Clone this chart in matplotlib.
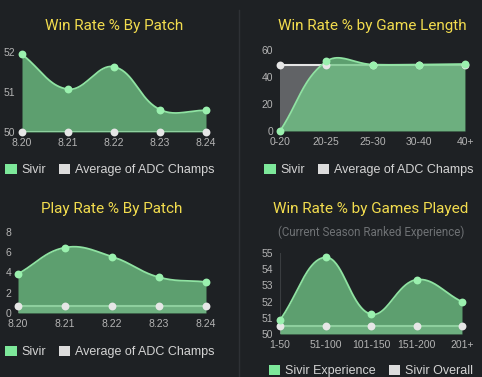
import numpy as np
import matplotlib
matplotlib.use('Agg')
import matplotlib.pyplot as plt
from matplotlib.patches import Patch

# data
patches = ['8.20', '8.21', '8.22', '8.23', '8.24']
win_patch = [51.94, 51.07, 51.63, 50.56, 50.54]
win_patch_avg = [50.0, 50.0, 50.0, 50.0, 50.0]

lengths = ['0-20', '20-25', '25-30', '30-40', '40+']
win_length = [0.0, 51.5, 49.2, 49.2, 49.6]
win_length_avg = [49.0, 49.0, 49.0, 49.0, 49.0]

play_patch = [3.86, 6.46, 5.57, 3.53, 3.07]
play_patch_avg = [0.65, 0.65, 0.65, 0.65, 0.65]

games = ['1-50', '51-100', '101-150', '151-200', '201+']
win_games = [50.87, 54.73, 51.22, 53.35, 51.99]
win_games_overall = [50.52, 50.52, 50.52, 50.52, 50.52]

BG = '#1e2124'
GREEN_LINE = '#8fe3a2'
GREEN_FILL = '#72c888'
GREEN_PT = '#9af0ae'
AVG_LINE = '#e6e6e6'
TICK = '#b4b4b4'
TITLE = '#f2dc4e'

W, H = 482, 377
fig = plt.figure(figsize=(W / 100, H / 100), dpi=100, facecolor=BG)


def px_axes(x0, x1, ytop, ybot):
    return fig.add_axes([x0 / W, 1 - ybot / H, (x1 - x0) / W, (ybot - ytop) / H])


def spline(ax, ys, tension=0.4):
    # chart.js style cubic bezier through the points, done in pixel space
    n = len(ys)
    pts = ax.transData.transform(np.column_stack([np.arange(n), ys]))
    bb = ax.bbox
    c_prev = np.zeros_like(pts)
    c_next = np.zeros_like(pts)
    for i in range(n):
        p0 = pts[max(i - 1, 0)]
        p1 = pts[i]
        p2 = pts[min(i + 1, n - 1)]
        d01 = np.hypot(*(p1 - p0))
        d12 = np.hypot(*(p2 - p1))
        s01 = d01 / (d01 + d12) if d01 + d12 else 0
        s12 = d12 / (d01 + d12) if d01 + d12 else 0
        c_prev[i] = p1 - tension * s01 * (p2 - p0)
        c_next[i] = p1 + tension * s12 * (p2 - p0)
    for c in (c_prev, c_next):
        c[:, 0] = np.clip(c[:, 0], bb.x0, bb.x1)
        c[:, 1] = np.clip(c[:, 1], bb.y0, bb.y1)
    t = np.linspace(0, 1, 40)[:, None]
    segs = []
    for i in range(n - 1):
        a, b, c, d = pts[i], c_next[i], c_prev[i + 1], pts[i + 1]
        seg = (1 - t) ** 3 * a + 3 * (1 - t) ** 2 * t * b + 3 * (1 - t) * t ** 2 * c + t ** 3 * d
        segs.append(seg if i == 0 else seg[1:])
    curve = ax.transData.inverted().transform(np.vstack(segs))
    return curve[:, 0], curve[:, 1]


def panel(box, labels, main, avg, ylim, yticks, title, legend, legend_y, subtitle=None, grid=False):
    ax = px_axes(*box)
    ax.set_facecolor(BG)
    ax.set_xlim(0, len(labels) - 1)
    ax.set_ylim(*ylim)
    for s in ax.spines.values():
        s.set_visible(False)
    ax.set_xticks(range(len(labels)))
    ax.set_xticklabels(labels)
    ax.set_yticks(yticks)
    ax.tick_params(axis='x', length=0, colors=TICK, labelsize=7.5, pad=4)
    ax.tick_params(axis='y', length=0, colors=TICK, labelsize=7.5, pad=5)
    for lab in ax.get_xticklabels() + ax.get_yticklabels():
        lab.set_family('Liberation Sans')
    if grid:
        ax.axvline(0, color='#3a3d40', lw=0.8, zorder=0)
    x = np.arange(len(labels))
    # average dataset (drawn underneath)
    ax.fill_between(x, avg, ylim[0], color='white', alpha=0.3, lw=0, zorder=1)
    ax.plot(x, avg, color=AVG_LINE, lw=1.5, zorder=2)
    # main dataset
    cx, cy = spline(ax, main)
    ax.fill_between(cx, cy, ylim[0], color=GREEN_FILL, alpha=0.76, lw=0, zorder=3)
    ax.plot(cx, cy, color=GREEN_LINE, lw=1.3, zorder=4)
    ax.scatter(x, avg, s=32, color=AVG_LINE, zorder=5, clip_on=False, lw=0)
    ax.scatter(x, main, s=32, color=GREEN_PT, zorder=6, clip_on=False, lw=0)

    cx_fig = (box[0] + box[1]) / 2
    fig.text(cx_fig / W, 1 - title[1] / H, title[0], color=TITLE, fontsize=11,
             family='Roboto', ha='center', va='center')
    if subtitle:
        fig.text(cx_fig / W, 1 - subtitle[1] / H, subtitle[0], color='#6e7174', fontsize=8.3,
                 family='Roboto', ha='center', va='center')
    handles = [Patch(facecolor='#7de89a', edgecolor='none'),
               Patch(facecolor='#dcdcdc', edgecolor='none')]
    fig.legend(handles, legend, loc='center', bbox_to_anchor=(legend_y[0] / W, 1 - legend_y[1] / H),
               ncol=2, frameon=False, labelcolor='#d4d4d4',
               handlelength=0.9, handleheight=0.9, handletextpad=0.4, columnspacing=1.0,
               prop={'family': 'Liberation Sans', 'size': 9})
    return ax


panel((22, 206, 52, 132), patches, win_patch, win_patch_avg, (50, 52), [50, 51, 52],
      ('Win Rate % By Patch', 26), ['Sivir', 'Average of ADC Champs'], (110, 170))
panel((280, 465, 50, 131), lengths, win_length, win_length_avg, (0, 60), [0, 20, 40, 60],
      ('Win Rate % by Game Length', 26), ['Sivir', 'Average of ADC Champs'], (369, 170))
panel((18, 206, 232, 313), patches, play_patch, play_patch_avg, (0, 8), [0, 2, 4, 6, 8],
      ('Play Rate % By Patch', 209), ['Sivir', 'Average of ADC Champs'], (110, 352))
panel((280, 462, 253, 334), games, win_games, win_games_overall, (50, 55), [50, 51, 52, 53, 54, 55],
      ('Win Rate % by Games Played', 209), ['Sivir Experience', 'Sivir Overall'], (371, 371),
      subtitle=('(Current Season Ranked Experience)', 232), grid=True)

# panel divider
fig.add_artist(plt.Line2D([239 / W, 239 / W], [0, 1 - 10 / H], color='#2e3135', lw=1))

fig.savefig('out.png', dpi=100, facecolor=BG)
